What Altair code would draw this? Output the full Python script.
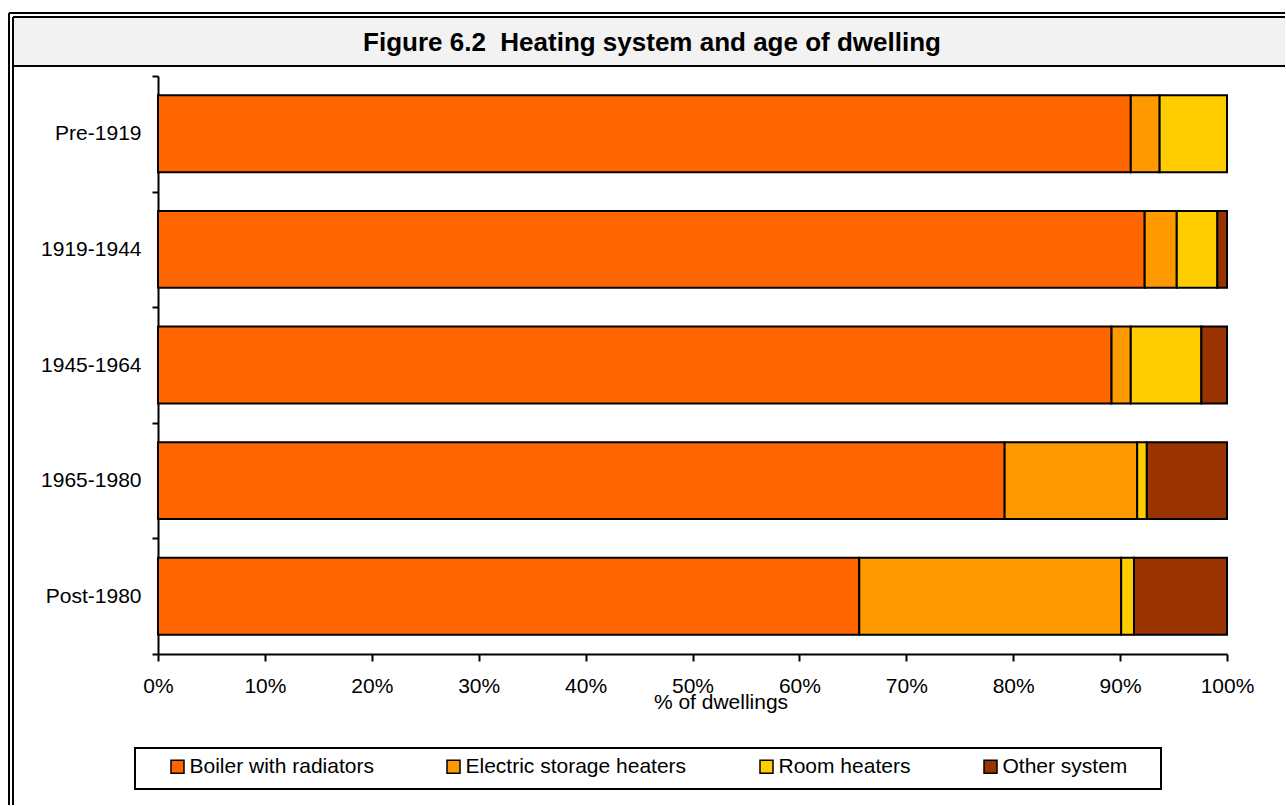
import altair as alt
import pandas as pd

# Share of dwellings (%) by main heating system, per construction period
periods = ["Pre-1919", "1919-1944", "1945-1964", "1965-1980", "Post-1980"]
systems = ["Boiler with radiators", "Electric storage heaters", "Room heaters", "Other system"]
boiler = [91.0, 92.3, 89.2, 79.2, 65.6]
storage = [2.7, 3.0, 1.8, 12.4, 24.5]
room = [6.3, 3.8, 6.6, 0.9, 1.2]
other = [0.0, 0.9, 2.4, 7.5, 8.7]
colors = ["#FF6600", "#FF9900", "#FFCC00", "#993300"]
x_ticks = [0, 10, 20, 30, 40, 50, 60, 70, 80, 90, 100]
title_text = "Figure 6.2\u00a0 Heating system and age of dwelling"

rows = []
for i, p in enumerate(periods):
    for k, (s, series) in enumerate(zip(systems, [boiler, storage, room, other])):
        rows.append({"period": p, "system": s, "value": series[i], "rank": k})
df = pd.DataFrame(rows)

W, H = 1069, 578
FONT = "Liberation Sans"

bars = alt.Chart(df).mark_bar(
    stroke="black", strokeWidth=2, height=alt.RelativeBandSize(0.665)
).encode(
    x=alt.X(
        "value:Q",
        stack="zero",
        scale=alt.Scale(domain=[0, 100], nice=False),
        axis=alt.Axis(
            values=x_ticks,
            labelExpr="datum.value + '%'",
            grid=False,
            labelFlush=False,
            labelOverlap=False,
            tickSize=7,
            tickWidth=2,
            tickColor="black",
            domainWidth=2,
            domainColor="black",
            labelFontSize=21,
            labelColor="black",
            labelBaseline="alphabetic",
            labelPadding=31,
            title="% of dwellings",
            titleFontSize=21,
            titleFontWeight="normal",
            titleColor="black",
            titleX=562.5,
            titleY=54.3,
            titleBaseline="alphabetic",
            titleAlign="center",
        ),
    ),
    y=alt.Y(
        "period:N",
        sort=periods,
        scale=alt.Scale(paddingInner=0, paddingOuter=0),
        axis=alt.Axis(
            title=None,
            tickBand="extent",
            tickSize=6,
            tickWidth=2,
            tickColor="black",
            domainWidth=2,
            domainColor="black",
            labelFontSize=21,
            labelColor="black",
            labelPadding=11,
            grid=False,
        ),
    ),
    color=alt.Color(
        "system:N",
        sort=systems,
        scale=alt.Scale(domain=systems, range=colors),
        legend=alt.Legend(
            title=None,
            orient="none",
            direction="horizontal",
            legendX=9,
            legendY=680,
            padding=0,
            columnPadding=69,
            symbolType="square",
            symbolSize=169,
            symbolStrokeColor="black",
            symbolStrokeWidth=1.5,
            symbolOpacity=1,
            labelFontSize=21,
            labelColor="black",
            labelOffset=1.5,
            labelLimit=400,
        ),
    ),
    order=alt.Order("rank:Q", sort="ascending"),
)

one = alt.Data(values=[{"t": title_text}])

# Heading band with its frame
header_fill = alt.Chart(one).mark_rect(fill="#f2f2f2").encode(
    x=alt.value(-145), x2=alt.value(1127), y=alt.value(-59), y2=alt.value(-10)
)
heading = alt.Chart(one).mark_text(
    fontSize=26, fontWeight="bold", align="center", baseline="alphabetic", color="black"
).encode(text="t:N", x=alt.value(494), y=alt.value(-25.3))


def rule(**enc):
    return alt.Chart(one).mark_rule(color="black", strokeWidth=2).encode(**enc)


frame = [
    rule(x=alt.value(-149), y=alt.value(-63), y2=alt.value(729)),
    rule(x=alt.value(-149), x2=alt.value(1127), y=alt.value(-63)),
    rule(x=alt.value(-145), y=alt.value(-59), y2=alt.value(729)),
    rule(x=alt.value(-145), x2=alt.value(1127), y=alt.value(-59)),
    rule(x=alt.value(-145), x2=alt.value(1127), y=alt.value(-10)),
]

# Box around the legend
legend_box = alt.Chart(one).mark_rect(fill="white", stroke="black", strokeWidth=2).encode(
    x=alt.value(-23), x2=alt.value(1003), y=alt.value(672), y2=alt.value(713)
)

chart = (
    alt.layer(header_fill, *frame, heading, legend_box, bars)
    .properties(
        width=W,
        height=H,
        padding={"left": 8, "top": 12, "right": 0, "bottom": 0},
        background="white",
    )
    .configure(font=FONT)
    .configure_view(stroke="transparent")
)

chart.save("out.html", embed_options={"renderer": "svg", "actions": False})
